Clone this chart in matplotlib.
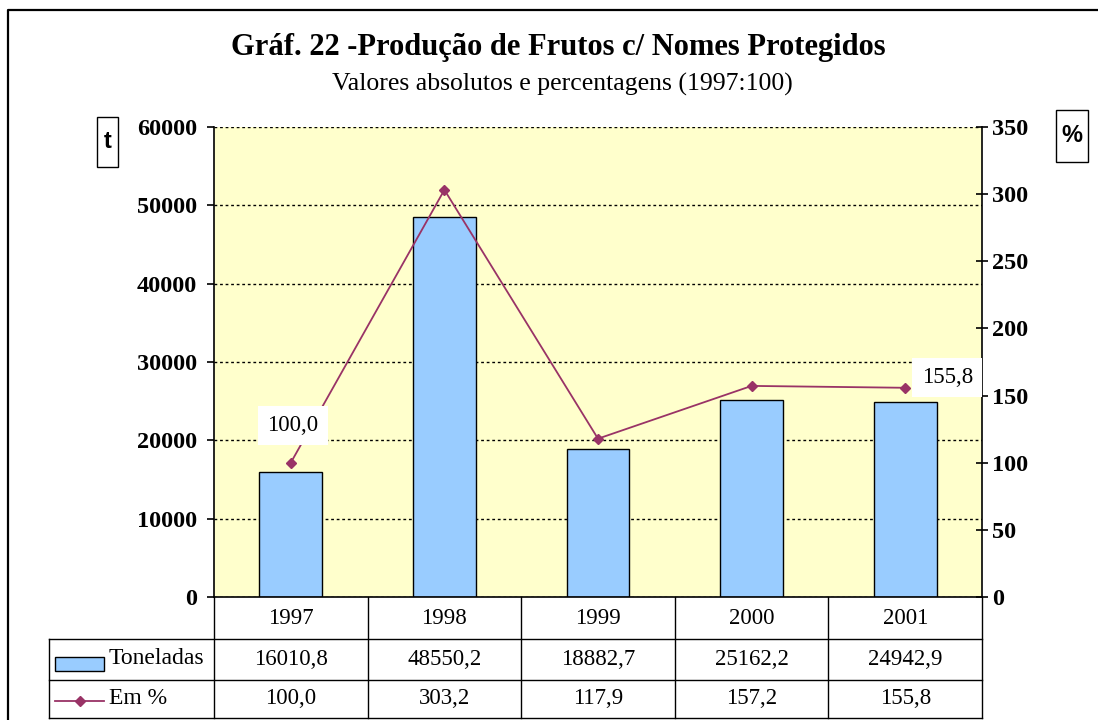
import matplotlib
matplotlib.use('Agg')
from matplotlib import pyplot as plt
from matplotlib.lines import Line2D
from matplotlib.patches import Rectangle
import numpy as np

# data
anos = ['1997', '1998', '1999', '2000', '2001']
toneladas = [16010.8, 48550.2, 18882.7, 25162.2, 24942.9]
em_pct = [100.0, 303.2, 117.9, 157.2, 155.8]
rotulos_linha = ['Toneladas', 'Em %']

titulo = 'Gráf. 22 -Produção de Frutos c/ Nomes Protegidos'
subtitulo = 'Valores absolutos e percentagens (1997:100)'

COR_BARRA = '#99CCFF'
COR_LINHA = '#993366'
COR_FUNDO = '#FFFFCC'
SERIF = 'Liberation Serif'
SANS = 'Liberation Sans'

W, H = 1098, 720
fig = plt.figure(figsize=(W / 100, H / 100), dpi=100)


def fx(px):
    return px / W


def fy(py):
    return 1 - py / H


def caixa_px(x0, y0, x1, y1):
    # white box with black border, given in pixel coords
    fig.patches.append(Rectangle((fx(x0), fy(y1)), fx(x1) - fx(x0),
                                 fy(y0) - fy(y1), transform=fig.transFigure,
                                 facecolor='white', edgecolor='black',
                                 linewidth=1.0))


# plot area in pixels: left 214, right 982, top 127, bottom 597
ax1 = fig.add_axes([fx(214), fy(597), fx(982) - fx(214), fy(127) - fy(597)])
ax1.set_facecolor(COR_FUNDO)
x = np.arange(len(anos))
ax1.bar(x, toneladas, width=0.41, color=COR_BARRA, edgecolor='black',
        linewidth=1.0, zorder=2)
ax1.set_xlim(-0.5, len(anos) - 0.5)
ax1.set_ylim(0, 60000)
ax1.set_yticks(np.arange(0, 60001, 10000))
ax1.set_xticks([])
ax1.yaxis.grid(True, color='black', linestyle=(0, (2, 2)), linewidth=1.0)
ax1.set_axisbelow(True)
for s in ['top', 'right']:
    ax1.spines[s].set_visible(False)
ax1.spines['left'].set_linewidth(1.2)
ax1.spines['bottom'].set_linewidth(1.2)
ax1.tick_params(axis='y', direction='out', length=5, width=1.2, pad=7)
for lab in ax1.get_yticklabels():
    lab.set_fontfamily(SERIF)
    lab.set_fontweight('bold')
    lab.set_fontsize(17.5)

ax2 = ax1.twinx()
ax2.set_ylim(0, 350)
ax2.set_yticks(np.arange(0, 351, 50))
ax2.plot(x, em_pct, color=COR_LINHA, linewidth=1.3, marker='D',
         markersize=5.5, zorder=3)
for s in ['top', 'left', 'bottom']:
    ax2.spines[s].set_visible(False)
ax2.spines['right'].set_linewidth(1.2)
ax2.tick_params(axis='y', direction='inout', length=8, width=1.2, pad=3)
for lab in ax2.get_yticklabels():
    lab.set_fontfamily(SERIF)
    lab.set_fontweight('bold')
    lab.set_fontsize(17.5)

# data labels for first and last point
caixa = dict(boxstyle='square,pad=0.4', facecolor='white', edgecolor='none')
ax2.annotate('100,0', (x[0], em_pct[0]), xytext=(2, 37),
             textcoords='offset pixels', ha='center', va='center',
             fontsize=16.5, family=SERIF, bbox=caixa, zorder=5)
ax2.annotate('155,8', (x[-1], em_pct[-1]), xytext=(42, 10),
             textcoords='offset pixels', ha='center', va='center',
             fontsize=16.5, family=SERIF, bbox=caixa, zorder=5)

# titles
fig.text(fx(558), fy(47), titulo, ha='center', va='center', fontsize=22,
         fontweight='bold', family=SERIF)
fig.text(fx(562), fy(84), subtitulo, ha='center', va='center', fontsize=18.5,
         family=SERIF)

# axis unit boxes
caixa_px(97, 117, 118, 167)
fig.text(fx(107.5), fy(142), 't', ha='center', va='center', fontsize=17,
         fontweight='bold', family=SANS)
caixa_px(1056, 110, 1088, 162)
fig.text(fx(1072), fy(136), '%', ha='center', va='center', fontsize=17,
         fontweight='bold', family=SANS)

# data table under the chart (axes coordinates)
ta = ax1.transAxes
n = len(anos)
x_lab = (49 - 214) / 768
y_r1 = -(639 - 597) / 470
y_r2 = -(680 - 597) / 470
y_r3 = -(718 - 597) / 470
kw = dict(transform=ta, color='black', linewidth=1.0, clip_on=False)
ax1.plot([x_lab, 1], [y_r1, y_r1], **kw)
ax1.plot([x_lab, 1], [y_r2, y_r2], **kw)
ax1.plot([x_lab, 1], [y_r3, y_r3], **kw)
ax1.plot([x_lab, x_lab], [y_r1, y_r3], **kw)
for k in range(n + 1):
    ax1.plot([k / n, k / n], [0, y_r3], **kw)

for i in range(n):
    xc = (i + 0.5) / n
    ax1.text(xc, y_r1 / 2, anos[i], transform=ta, ha='center', va='center',
             fontsize=16.5, family=SERIF)
    ax1.text(xc, (y_r1 + y_r2) / 2, f'{toneladas[i]:.1f}'.replace('.', ','),
             transform=ta, ha='center', va='center', fontsize=16.5,
             family=SERIF)
    ax1.text(xc, (y_r2 + y_r3) / 2, f'{em_pct[i]:.1f}'.replace('.', ','),
             transform=ta, ha='center', va='center', fontsize=16.5,
             family=SERIF)

# legend keys inside the row labels
fig.patches.append(Rectangle((fx(55), fy(671)), fx(104) - fx(55),
                             fy(657) - fy(671), transform=fig.transFigure,
                             facecolor=COR_BARRA, edgecolor='black',
                             linewidth=1.0))
fig.lines.append(Line2D([fx(55), fx(104)], [fy(701), fy(701)],
                        transform=fig.transFigure, color=COR_LINHA,
                        linewidth=1.3))
fig.lines.append(Line2D([fx(80)], [fy(701)], transform=fig.transFigure,
                        color=COR_LINHA, marker='D', markersize=5.5))
fig.text(fx(109), fy(659), rotulos_linha[0], ha='left', va='center',
         fontsize=17, family=SERIF)
fig.text(fx(109), fy(699), rotulos_linha[1], ha='left', va='center',
         fontsize=17, family=SERIF)

# outer frame
fig.lines.append(Line2D([fx(7.5), fx(7.5), fx(1098)],
                        [fy(722), fy(10), fy(10)],
                        transform=fig.transFigure, color='black',
                        linewidth=1.6))

fig.savefig('out.png', dpi=100)
